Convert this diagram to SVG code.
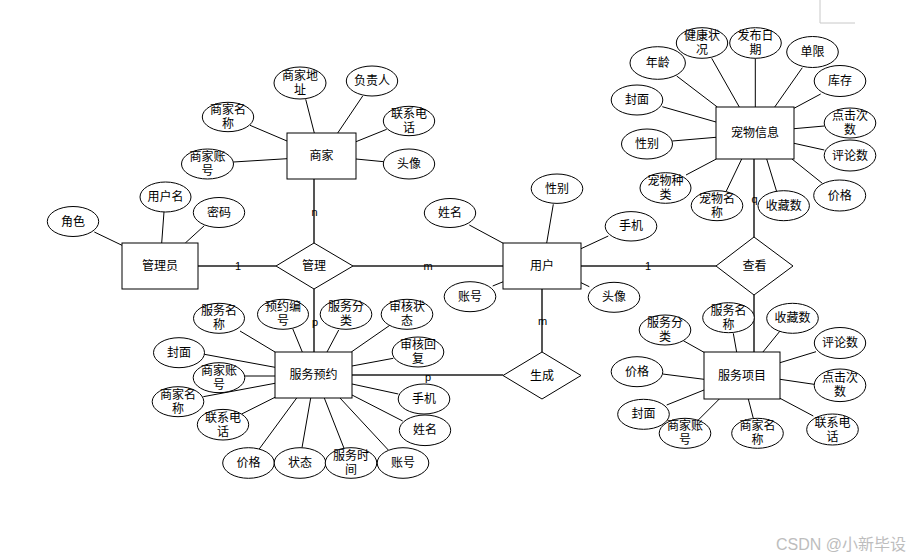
<svg xmlns="http://www.w3.org/2000/svg" width="916" height="560" viewBox="0 0 916 560">
<style>
.bg{fill:#ffffff}
.e{fill:#fff;stroke:#000;stroke-width:1}
.a{fill:#fff;stroke:#000;stroke-width:1}
.r{fill:#fff;stroke:#000;stroke-width:1}
.al{stroke:#000;stroke-width:1;fill:none}
.rl{stroke:#555;stroke-width:2;fill:none}
text{font-family:"Liberation Sans","Noto Sans CJK SC",sans-serif;font-size:12px;fill:#000;text-anchor:middle;dominant-baseline:central}
.lb{font-size:11px}
.wm{font-size:16px;fill:#bdbdbd;text-anchor:start}
</style>
<rect class="bg" x="0" y="0" width="916" height="560"/>
<polyline points="820,0 820,23 855,23" fill="none" stroke="#c8c8c8" stroke-width="1"/>
<g id="connectors">
  <line class="rl" x1="198" y1="266" x2="276" y2="266"/>
  <line class="rl" x1="353" y1="266" x2="503" y2="266"/>
  <line class="rl" x1="314" y1="179" x2="314" y2="243"/>
  <line class="rl" x1="314" y1="289" x2="314" y2="352"/>
  <line class="rl" x1="581" y1="266" x2="716" y2="266"/>
  <line class="rl" x1="754" y1="159" x2="754" y2="237"/>
  <line class="rl" x1="754" y1="295" x2="754" y2="352"/>
  <line class="rl" x1="542" y1="289" x2="542" y2="352"/>
  <line class="rl" x1="352" y1="375" x2="503" y2="375"/>
  <line class="al" x1="305.7" y1="99.3" x2="314.3" y2="133"/>
  <line class="al" x1="362.7" y1="96" x2="337.7" y2="133"/>
  <line class="al" x1="250" y1="125.3" x2="287" y2="141"/>
  <line class="al" x1="386.7" y1="129.3" x2="356" y2="141.7"/>
  <line class="al" x1="233.3" y1="162" x2="287" y2="158.7"/>
  <line class="al" x1="383.7" y1="161.7" x2="356" y2="159"/>
  <line class="al" x1="164" y1="211.7" x2="161.7" y2="243"/>
  <line class="al" x1="204.3" y1="225.7" x2="185.3" y2="243"/>
  <line class="al" x1="94.3" y1="232" x2="122" y2="245.3"/>
  <line class="al" x1="711.7" y1="58.3" x2="739.3" y2="107"/>
  <line class="al" x1="755.3" y1="58.3" x2="755.3" y2="107"/>
  <line class="al" x1="676.7" y1="76" x2="717.3" y2="107"/>
  <line class="al" x1="802.3" y1="67.7" x2="774.7" y2="107"/>
  <line class="al" x1="820.7" y1="94" x2="794" y2="108.3"/>
  <line class="al" x1="662.3" y1="106.7" x2="716" y2="122"/>
  <line class="al" x1="824.3" y1="126" x2="794" y2="128.7"/>
  <line class="al" x1="672.3" y1="141" x2="716" y2="137.3"/>
  <line class="al" x1="824.3" y1="150" x2="794" y2="143.3"/>
  <line class="al" x1="686" y1="175" x2="716.3" y2="159"/>
  <line class="al" x1="726" y1="191.7" x2="741.7" y2="159"/>
  <line class="al" x1="776.7" y1="191.7" x2="766.7" y2="159"/>
  <line class="al" x1="822.3" y1="183.3" x2="792" y2="159"/>
  <line class="al" x1="469.3" y1="225" x2="503.3" y2="243.3"/>
  <line class="al" x1="553.3" y1="204.3" x2="546.7" y2="243"/>
  <line class="al" x1="608.3" y1="236" x2="581" y2="248.7"/>
  <line class="al" x1="492.7" y1="286" x2="503.3" y2="281.7"/>
  <line class="al" x1="589.3" y1="286.7" x2="581" y2="282.7"/>
  <line class="al" x1="240" y1="331" x2="275" y2="352"/>
  <line class="al" x1="292.7" y1="328.7" x2="302.3" y2="352"/>
  <line class="al" x1="338.7" y1="330" x2="327" y2="352"/>
  <line class="al" x1="392.7" y1="323.3" x2="351.3" y2="352"/>
  <line class="al" x1="393.3" y1="358.3" x2="352" y2="366"/>
  <line class="al" x1="204.3" y1="354.3" x2="275" y2="367.3"/>
  <line class="al" x1="245" y1="376" x2="275" y2="376"/>
  <line class="al" x1="203.3" y1="396.7" x2="275" y2="383.3"/>
  <line class="al" x1="398.3" y1="394" x2="352" y2="384"/>
  <line class="al" x1="241.7" y1="414" x2="275" y2="397.3"/>
  <line class="al" x1="402.7" y1="421" x2="352" y2="395"/>
  <line class="al" x1="259" y1="449.3" x2="296.7" y2="398"/>
  <line class="al" x1="302" y1="447.7" x2="310.7" y2="398"/>
  <line class="al" x1="344.7" y1="450" x2="324.3" y2="398"/>
  <line class="al" x1="388.3" y1="450" x2="340" y2="398"/>
  <line class="al" x1="683.3" y1="340.7" x2="704" y2="352.3"/>
  <line class="al" x1="733.3" y1="333.3" x2="736.7" y2="352.3"/>
  <line class="al" x1="780" y1="331" x2="762.7" y2="352.3"/>
  <line class="al" x1="816" y1="351.7" x2="780" y2="362.7"/>
  <line class="al" x1="662.7" y1="374" x2="704" y2="379.3"/>
  <line class="al" x1="814" y1="384.3" x2="780" y2="379.3"/>
  <line class="al" x1="666.7" y1="405" x2="704" y2="390"/>
  <line class="al" x1="698.3" y1="420" x2="719.3" y2="399"/>
  <line class="al" x1="753.3" y1="418.3" x2="748.3" y2="399"/>
  <line class="al" x1="813.3" y1="416" x2="780" y2="398.3"/>
  <text class="lb" x="238" y="266">1</text>
  <text class="lb" x="428" y="266">m</text>
  <text class="lb" x="314.5" y="212">n</text>
  <text class="lb" x="315" y="322">p</text>
  <text class="lb" x="648" y="266">1</text>
  <text class="lb" x="754.5" y="199">q</text>
  <text class="lb" x="542.5" y="321">m</text>
  <text class="lb" x="428" y="377">p</text>
</g>

<g id="shangjia"><rect class="e" x="287" y="133" width="69" height="46"/><text x="321.5" y="156">商家</text></g>
<g id="guanliyuan"><rect class="e" x="122" y="243" width="76" height="46"/><text x="160" y="266">管理员</text></g>
<g id="yonghu"><rect class="e" x="503" y="243" width="78" height="46"/><text x="542" y="266">用户</text></g>
<g id="chongwuxinxi"><rect class="e" x="716" y="107" width="78" height="52"/><text x="755" y="133">宠物信息</text></g>
<g id="fuwuyuyue"><rect class="e" x="275" y="352" width="77" height="46"/><text x="313.5" y="375">服务预约</text></g>
<g id="fuwuxiangmu"><rect class="e" x="704" y="352" width="76" height="47"/><text x="742" y="375.5">服务项目</text></g>

<g id="guanli"><polygon class="r" points="276,266 314,243 353,266 314,289"/><text x="314" y="266">管理</text></g>
<g id="chakan"><polygon class="r" points="716,266 754,237 793,266 754,295"/><text x="754.5" y="266">查看</text></g>
<g id="shengcheng"><polygon class="r" points="503,375.5 542,352 581,375.5 542,399"/><text x="542" y="375.5">生成</text></g>

<g id="sj-addr"><ellipse class="a" cx="300" cy="83" rx="26" ry="16"/><text x="300" y="76">商家地</text><text x="300" y="90">址</text></g>
<g id="sj-fzr"><ellipse class="a" cx="372" cy="81" rx="25.7" ry="15"/><text x="372" y="81">负责人</text></g>
<g id="sj-name"><ellipse class="a" cx="228" cy="117" rx="25.7" ry="14.7"/><text x="228" y="110">商家名</text><text x="228" y="124">称</text></g>
<g id="sj-tel"><ellipse class="a" cx="409" cy="121" rx="25.7" ry="14.7"/><text x="409" y="114">联系电</text><text x="409" y="128">话</text></g>
<g id="sj-acc"><ellipse class="a" cx="207.5" cy="164" rx="26" ry="15"/><text x="207.5" y="157">商家账</text><text x="207.5" y="171">号</text></g>
<g id="sj-avatar"><ellipse class="a" cx="409" cy="164" rx="25.7" ry="15"/><text x="409" y="164">头像</text></g>

<g id="gly-user"><ellipse class="a" cx="165.5" cy="197" rx="25.5" ry="15"/><text x="165.5" y="197">用户名</text></g>
<g id="gly-pwd"><ellipse class="a" cx="219" cy="212.5" rx="25.7" ry="15"/><text x="219" y="212.5">密码</text></g>
<g id="gly-role"><ellipse class="a" cx="73" cy="221.5" rx="25.7" ry="15"/><text x="73" y="221.5">角色</text></g>

<g id="cw-health"><ellipse class="a" cx="702" cy="43" rx="25.7" ry="15.3"/><text x="702" y="36">健康状</text><text x="702" y="50">况</text></g>
<g id="cw-date"><ellipse class="a" cx="755.5" cy="43" rx="25.8" ry="15.3"/><text x="755.5" y="36">发布日</text><text x="755.5" y="50">期</text></g>
<g id="cw-age"><ellipse class="a" cx="657.7" cy="63" rx="27.7" ry="16.3"/><text x="657.7" y="63">年龄</text></g>
<g id="cw-limit"><ellipse class="a" cx="812.5" cy="52" rx="25.8" ry="15.5"/><text x="812.5" y="52">单限</text></g>
<g id="cw-stock"><ellipse class="a" cx="840" cy="81" rx="25.8" ry="15.5"/><text x="840" y="81">库存</text></g>
<g id="cw-cover"><ellipse class="a" cx="637" cy="100" rx="25.8" ry="15"/><text x="637" y="100">封面</text></g>
<g id="cw-click"><ellipse class="a" cx="850" cy="123" rx="25.8" ry="15"/><text x="850" y="116">点击次</text><text x="850" y="130">数</text></g>
<g id="cw-sex"><ellipse class="a" cx="647" cy="144" rx="25.5" ry="15"/><text x="647" y="144">性别</text></g>
<g id="cw-comment"><ellipse class="a" cx="850" cy="155.5" rx="25.8" ry="15.5"/><text x="850" y="155.5">评论数</text></g>
<g id="cw-kind"><ellipse class="a" cx="665.5" cy="188" rx="25.5" ry="15.3"/><text x="665.5" y="181">宠物种</text><text x="665.5" y="195">类</text></g>
<g id="cw-name"><ellipse class="a" cx="717" cy="205.7" rx="25.8" ry="15"/><text x="717" y="198.7">宠物名</text><text x="717" y="212.7">称</text></g>
<g id="cw-fav"><ellipse class="a" cx="783.7" cy="205.7" rx="25.7" ry="15"/><text x="783.7" y="205.7">收藏数</text></g>
<g id="cw-price"><ellipse class="a" cx="839.7" cy="195.5" rx="26" ry="15.5"/><text x="839.7" y="195.5">价格</text></g>

<g id="yh-name"><ellipse class="a" cx="450" cy="213" rx="25.7" ry="14.5"/><text x="450" y="213">姓名</text></g>
<g id="yh-sex"><ellipse class="a" cx="557" cy="188.7" rx="25.8" ry="14.7"/><text x="557" y="188.7">性别</text></g>
<g id="yh-phone"><ellipse class="a" cx="631" cy="226.3" rx="25.8" ry="14.7"/><text x="631" y="226.3">手机</text></g>
<g id="yh-acc"><ellipse class="a" cx="470" cy="296.7" rx="25.8" ry="15"/><text x="470" y="296.7">账号</text></g>
<g id="yh-avatar"><ellipse class="a" cx="614" cy="297.3" rx="25.8" ry="15"/><text x="614" y="297.3">头像</text></g>

<g id="yy-sname"><ellipse class="a" cx="219" cy="318.3" rx="25.5" ry="15"/><text x="219" y="311.3">服务名</text><text x="219" y="325.3">称</text></g>
<g id="yy-no"><ellipse class="a" cx="283" cy="314.3" rx="25.5" ry="15"/><text x="283" y="307.3">预约编</text><text x="283" y="321.3">号</text></g>
<g id="yy-cat"><ellipse class="a" cx="346" cy="314.3" rx="25.8" ry="15"/><text x="346" y="307.3">服务分</text><text x="346" y="321.3">类</text></g>
<g id="yy-audit"><ellipse class="a" cx="407" cy="314.3" rx="25.8" ry="15"/><text x="407" y="307.3">审核状</text><text x="407" y="321.3">态</text></g>
<g id="yy-reply"><ellipse class="a" cx="418" cy="352" rx="25.8" ry="15"/><text x="418" y="345">审核回</text><text x="418" y="359">复</text></g>
<g id="yy-cover"><ellipse class="a" cx="179" cy="352.7" rx="25.5" ry="15"/><text x="179" y="352.7">封面</text></g>
<g id="yy-sjacc"><ellipse class="a" cx="219" cy="377.7" rx="25.8" ry="15"/><text x="219" y="370.7">商家账</text><text x="219" y="384.7">号</text></g>
<g id="yy-sjname"><ellipse class="a" cx="178" cy="401.7" rx="25.8" ry="15"/><text x="178" y="394.7">商家名</text><text x="178" y="408.7">称</text></g>
<g id="yy-phone"><ellipse class="a" cx="424" cy="399" rx="25.8" ry="15"/><text x="424" y="399">手机</text></g>
<g id="yy-tel"><ellipse class="a" cx="223" cy="424.7" rx="25.7" ry="15.3"/><text x="223" y="417.7">联系电</text><text x="223" y="431.7">话</text></g>
<g id="yy-name"><ellipse class="a" cx="425" cy="430.3" rx="25.7" ry="15.3"/><text x="425" y="430.3">姓名</text></g>
<g id="yy-price"><ellipse class="a" cx="248.5" cy="463" rx="25.8" ry="15.3"/><text x="248.5" y="463">价格</text></g>
<g id="yy-status"><ellipse class="a" cx="300" cy="463" rx="25.8" ry="15.3"/><text x="300" y="463">状态</text></g>
<g id="yy-time"><ellipse class="a" cx="351" cy="463" rx="25.8" ry="15.3"/><text x="351" y="456">服务时</text><text x="351" y="470">间</text></g>
<g id="yy-acc"><ellipse class="a" cx="403" cy="463" rx="25.8" ry="15.3"/><text x="403" y="463">账号</text></g>

<g id="xm-cat"><ellipse class="a" cx="665" cy="330" rx="25.8" ry="15"/><text x="665" y="323">服务分</text><text x="665" y="337">类</text></g>
<g id="xm-name"><ellipse class="a" cx="728.5" cy="317.7" rx="25.8" ry="15"/><text x="728.5" y="310.7">服务名</text><text x="728.5" y="324.7">称</text></g>
<g id="xm-fav"><ellipse class="a" cx="792.5" cy="318.3" rx="25.8" ry="15"/><text x="792.5" y="318.3">收藏数</text></g>
<g id="xm-comment"><ellipse class="a" cx="840" cy="343" rx="25.7" ry="15.5"/><text x="840" y="343">评论数</text></g>
<g id="xm-price"><ellipse class="a" cx="637" cy="371.7" rx="25.8" ry="15"/><text x="637" y="371.7">价格</text></g>
<g id="xm-click"><ellipse class="a" cx="840" cy="385.3" rx="25.8" ry="16.3"/><text x="840" y="378.3">点击次</text><text x="840" y="392.3">数</text></g>
<g id="xm-cover"><ellipse class="a" cx="643.5" cy="414.3" rx="25.8" ry="15"/><text x="643.5" y="414.3">封面</text></g>
<g id="xm-sjacc"><ellipse class="a" cx="685" cy="433.3" rx="25.8" ry="15"/><text x="685" y="426.3">商家账</text><text x="685" y="440.3">号</text></g>
<g id="xm-sjname"><ellipse class="a" cx="757.5" cy="433.3" rx="25.8" ry="15"/><text x="757.5" y="426.3">商家名</text><text x="757.5" y="440.3">称</text></g>
<g id="xm-tel"><ellipse class="a" cx="832.5" cy="429.5" rx="25.8" ry="15.5"/><text x="832.5" y="422.5">联系电</text><text x="832.5" y="436.5">话</text></g>

<text class="wm" x="776" y="544">CSDN @小新毕设</text>
</svg>
